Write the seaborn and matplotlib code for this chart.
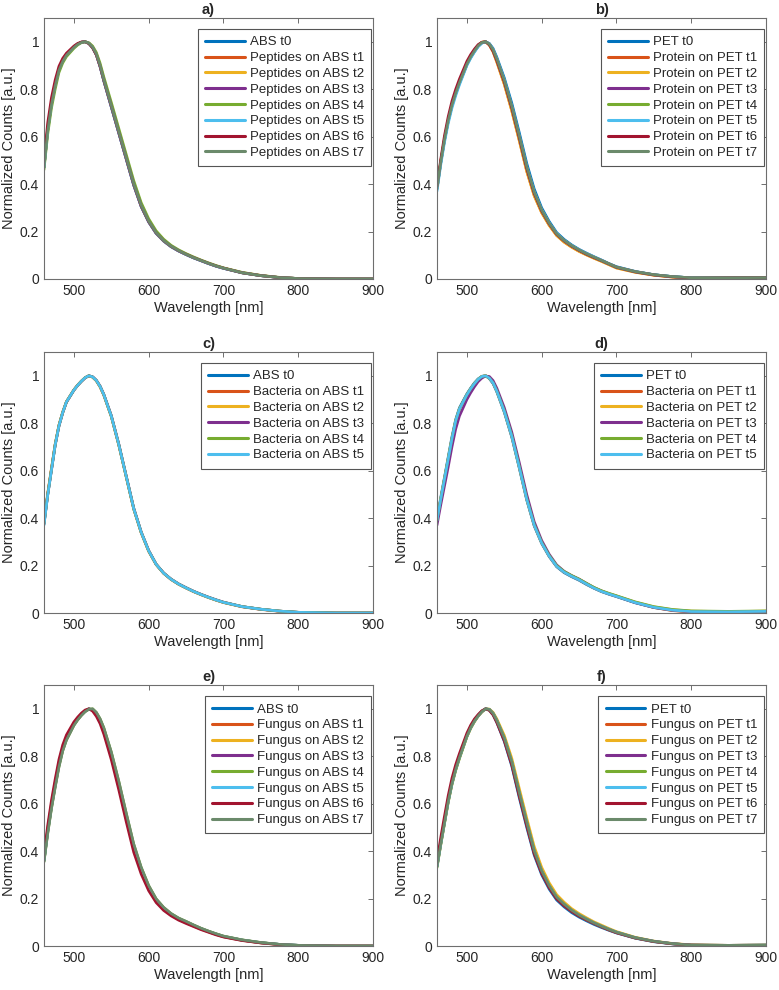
"""Normalized emission spectra of ABS / PET exposed to peptides, protein, bacteria and fungus (3x2 panels)."""

import matplotlib.pyplot as plt
import pandas as pd
import seaborn as sns

WAVELENGTH = [460, 465, 470, 475, 480, 485, 490, 500, 505, 510, 515, 520, 525, 530, 535, 540,
              550, 560, 570, 580, 590, 600, 610, 620, 630, 640, 650, 660, 670, 680, 690, 700,
              725, 750, 775, 800, 850, 900]

# MATLAB default line colours + grey-green for t7
LINE_COLORS = ["#0072BD", "#D95319", "#EDB120", "#7E2F8E", "#77AC30", "#4DBEEE", "#A2142F", "#6B8A6B"]

# a) peptides on ABS
PEPTIDES_ABS_LABELS = ["ABS t0"] + [f"Peptides on ABS t{i}" for i in range(1, 8)]
PEPTIDES_ABS = [
    [0.47, 0.63, 0.74, 0.82, 0.885, 0.92, 0.945, 0.978, 0.99, 0.998, 1.0, 0.993, 0.975, 0.945, 0.895, 0.835, 0.725, 0.615, 0.505, 0.395, 0.305, 0.24, 0.192, 0.16, 0.136, 0.118, 0.103, 0.089, 0.077, 0.065, 0.054, 0.045, 0.026, 0.014, 0.006, 0.002, 0.0, 0.0],
    [0.48, 0.64, 0.745, 0.825, 0.887, 0.922, 0.946, 0.978, 0.99, 0.998, 1.0, 0.994, 0.978, 0.95, 0.902, 0.843, 0.735, 0.625, 0.515, 0.405, 0.313, 0.247, 0.197, 0.164, 0.139, 0.12, 0.105, 0.091, 0.078, 0.066, 0.055, 0.046, 0.027, 0.015, 0.006, 0.002, 0.0, 0.0],
    [0.47, 0.63, 0.74, 0.82, 0.885, 0.92, 0.945, 0.978, 0.99, 0.998, 1.0, 0.993, 0.976, 0.947, 0.898, 0.838, 0.729, 0.619, 0.509, 0.399, 0.308, 0.242, 0.194, 0.161, 0.137, 0.119, 0.104, 0.09, 0.078, 0.066, 0.055, 0.046, 0.026, 0.014, 0.006, 0.002, 0.0, 0.0],
    [0.47, 0.628, 0.738, 0.818, 0.883, 0.919, 0.944, 0.977, 0.99, 0.998, 1.0, 0.993, 0.975, 0.945, 0.895, 0.835, 0.725, 0.615, 0.505, 0.395, 0.305, 0.24, 0.192, 0.16, 0.136, 0.118, 0.103, 0.089, 0.077, 0.065, 0.054, 0.045, 0.026, 0.014, 0.006, 0.002, 0.0, 0.0],
    [0.46, 0.61, 0.72, 0.80, 0.87, 0.91, 0.937, 0.972, 0.986, 0.996, 1.0, 0.996, 0.982, 0.955, 0.91, 0.852, 0.745, 0.635, 0.525, 0.415, 0.322, 0.254, 0.203, 0.168, 0.142, 0.123, 0.107, 0.093, 0.08, 0.068, 0.057, 0.047, 0.028, 0.015, 0.007, 0.002, 0.0, 0.0],
    [0.47, 0.63, 0.74, 0.82, 0.884, 0.92, 0.945, 0.978, 0.99, 0.998, 1.0, 0.993, 0.975, 0.945, 0.896, 0.836, 0.726, 0.616, 0.506, 0.396, 0.306, 0.241, 0.193, 0.16, 0.136, 0.118, 0.103, 0.089, 0.077, 0.065, 0.054, 0.045, 0.026, 0.014, 0.006, 0.002, 0.0, 0.0],
    [0.50, 0.66, 0.765, 0.84, 0.897, 0.93, 0.952, 0.982, 0.993, 0.999, 1.0, 0.992, 0.974, 0.944, 0.896, 0.837, 0.728, 0.618, 0.508, 0.398, 0.307, 0.242, 0.194, 0.161, 0.137, 0.119, 0.104, 0.09, 0.078, 0.066, 0.055, 0.046, 0.026, 0.014, 0.006, 0.002, 0.0, 0.0],
    [0.47, 0.625, 0.735, 0.815, 0.88, 0.917, 0.943, 0.976, 0.989, 0.997, 1.0, 0.994, 0.977, 0.948, 0.9, 0.84, 0.731, 0.621, 0.511, 0.401, 0.31, 0.244, 0.195, 0.162, 0.138, 0.12, 0.104, 0.09, 0.078, 0.066, 0.055, 0.046, 0.026, 0.014, 0.006, 0.002, 0.0, 0.0],
]

# b) protein on PET
PROTEIN_PET_LABELS = ["PET t0"] + [f"Protein on PET t{i}" for i in range(1, 8)]
PROTEIN_PET = [
    [0.38, 0.49, 0.585, 0.665, 0.73, 0.78, 0.825, 0.903, 0.933, 0.958, 0.98, 0.995, 1.0, 0.993, 0.972, 0.935, 0.848, 0.742, 0.618, 0.488, 0.38, 0.3, 0.243, 0.196, 0.167, 0.144, 0.125, 0.109, 0.094, 0.08, 0.065, 0.052, 0.032, 0.018, 0.01, 0.005, 0.005, 0.006],
    [0.38, 0.495, 0.59, 0.67, 0.735, 0.785, 0.83, 0.908, 0.938, 0.963, 0.985, 0.998, 1.0, 0.986, 0.958, 0.915, 0.822, 0.71, 0.585, 0.455, 0.352, 0.28, 0.227, 0.184, 0.156, 0.135, 0.117, 0.102, 0.088, 0.075, 0.061, 0.047, 0.029, 0.016, 0.008, 0.003, 0.004, 0.005],
    [0.38, 0.495, 0.59, 0.67, 0.735, 0.785, 0.83, 0.908, 0.938, 0.963, 0.985, 0.998, 1.0, 0.986, 0.957, 0.914, 0.82, 0.708, 0.583, 0.453, 0.35, 0.279, 0.226, 0.183, 0.155, 0.134, 0.116, 0.101, 0.087, 0.074, 0.06, 0.046, 0.028, 0.016, 0.008, 0.003, 0.004, 0.005],
    [0.38, 0.49, 0.585, 0.665, 0.73, 0.78, 0.825, 0.905, 0.935, 0.96, 0.982, 0.996, 1.0, 0.99, 0.965, 0.925, 0.835, 0.725, 0.60, 0.47, 0.365, 0.29, 0.235, 0.19, 0.162, 0.14, 0.122, 0.106, 0.092, 0.078, 0.064, 0.05, 0.031, 0.018, 0.01, 0.005, 0.005, 0.006],
    [0.38, 0.49, 0.586, 0.666, 0.731, 0.781, 0.826, 0.905, 0.935, 0.96, 0.982, 0.996, 1.0, 0.99, 0.966, 0.926, 0.836, 0.726, 0.601, 0.471, 0.366, 0.291, 0.236, 0.191, 0.163, 0.141, 0.122, 0.106, 0.092, 0.078, 0.064, 0.05, 0.031, 0.018, 0.01, 0.005, 0.005, 0.006],
    [0.37, 0.48, 0.575, 0.655, 0.72, 0.772, 0.818, 0.90, 0.93, 0.956, 0.979, 0.994, 1.0, 0.991, 0.968, 0.929, 0.84, 0.73, 0.605, 0.475, 0.368, 0.292, 0.237, 0.192, 0.163, 0.141, 0.123, 0.107, 0.093, 0.079, 0.064, 0.05, 0.031, 0.018, 0.01, 0.005, 0.005, 0.006],
    [0.39, 0.505, 0.605, 0.685, 0.75, 0.80, 0.843, 0.918, 0.946, 0.969, 0.988, 0.998, 1.0, 0.987, 0.96, 0.92, 0.83, 0.72, 0.595, 0.465, 0.36, 0.286, 0.232, 0.188, 0.16, 0.138, 0.12, 0.104, 0.09, 0.077, 0.063, 0.049, 0.03, 0.017, 0.009, 0.004, 0.005, 0.006],
    [0.385, 0.493, 0.588, 0.668, 0.733, 0.783, 0.828, 0.906, 0.936, 0.961, 0.983, 0.997, 1.0, 0.99, 0.966, 0.927, 0.837, 0.728, 0.603, 0.473, 0.366, 0.29, 0.235, 0.19, 0.162, 0.14, 0.122, 0.106, 0.092, 0.078, 0.064, 0.05, 0.031, 0.018, 0.01, 0.005, 0.005, 0.006],
]

# c) bacteria on ABS
BACTERIA_ABS_LABELS = ["ABS t0"] + [f"Bacteria on ABS t{i}" for i in range(1, 6)]
BACTERIA_ABS = [
    [0.375, 0.50, 0.605, 0.71, 0.79, 0.845, 0.89, 0.94, 0.96, 0.977, 0.992, 1.0, 0.995, 0.98, 0.955, 0.92, 0.83, 0.71, 0.575, 0.44, 0.34, 0.262, 0.205, 0.168, 0.142, 0.122, 0.106, 0.091, 0.078, 0.066, 0.055, 0.045, 0.027, 0.016, 0.008, 0.003, 0.0, 0.0],
    [0.38, 0.505, 0.61, 0.713, 0.792, 0.847, 0.891, 0.941, 0.961, 0.978, 0.992, 1.0, 0.994, 0.979, 0.953, 0.918, 0.828, 0.708, 0.573, 0.438, 0.338, 0.26, 0.204, 0.167, 0.141, 0.121, 0.105, 0.09, 0.077, 0.065, 0.054, 0.044, 0.026, 0.015, 0.007, 0.002, 0.0, 0.0],
    [0.38, 0.503, 0.608, 0.712, 0.791, 0.846, 0.89, 0.94, 0.96, 0.977, 0.992, 1.0, 0.994, 0.979, 0.954, 0.919, 0.829, 0.709, 0.574, 0.439, 0.339, 0.261, 0.205, 0.168, 0.142, 0.122, 0.106, 0.091, 0.078, 0.066, 0.055, 0.045, 0.027, 0.016, 0.008, 0.003, 0.0, 0.0],
    [0.375, 0.498, 0.602, 0.707, 0.787, 0.843, 0.888, 0.939, 0.959, 0.976, 0.991, 1.0, 0.996, 0.981, 0.957, 0.922, 0.833, 0.713, 0.578, 0.443, 0.342, 0.264, 0.206, 0.169, 0.143, 0.123, 0.107, 0.092, 0.079, 0.067, 0.056, 0.046, 0.027, 0.016, 0.008, 0.003, 0.0, 0.0],
    [0.375, 0.50, 0.605, 0.71, 0.79, 0.845, 0.89, 0.94, 0.96, 0.977, 0.992, 1.0, 0.995, 0.98, 0.955, 0.92, 0.83, 0.71, 0.575, 0.44, 0.34, 0.262, 0.205, 0.168, 0.142, 0.122, 0.106, 0.091, 0.078, 0.066, 0.055, 0.045, 0.027, 0.016, 0.008, 0.003, 0.0, 0.0],
    [0.37, 0.497, 0.603, 0.709, 0.789, 0.845, 0.89, 0.94, 0.96, 0.977, 0.992, 1.0, 0.995, 0.98, 0.955, 0.92, 0.83, 0.71, 0.575, 0.44, 0.34, 0.262, 0.205, 0.168, 0.142, 0.122, 0.106, 0.091, 0.078, 0.066, 0.055, 0.045, 0.027, 0.016, 0.008, 0.003, 0.0, 0.0],
]

# d) bacteria on PET
BACTERIA_PET_LABELS = ["PET t0"] + [f"Bacteria on PET t{i}" for i in range(1, 6)]
BACTERIA_PET = [
    [0.395, 0.487, 0.572, 0.658, 0.743, 0.816, 0.865, 0.924, 0.948, 0.97, 0.987, 0.998, 1.0, 0.988, 0.967, 0.932, 0.846, 0.741, 0.611, 0.476, 0.367, 0.293, 0.238, 0.195, 0.17, 0.153, 0.138, 0.12, 0.104, 0.09, 0.079, 0.069, 0.043, 0.023, 0.011, 0.005, 0.005, 0.006],
    [0.39, 0.48, 0.565, 0.65, 0.735, 0.81, 0.86, 0.92, 0.945, 0.967, 0.985, 0.997, 1.0, 0.99, 0.97, 0.935, 0.85, 0.745, 0.615, 0.48, 0.37, 0.295, 0.24, 0.197, 0.172, 0.155, 0.14, 0.122, 0.105, 0.091, 0.08, 0.07, 0.044, 0.023, 0.01, 0.004, 0.004, 0.006],
    [0.39, 0.48, 0.565, 0.65, 0.735, 0.81, 0.86, 0.92, 0.945, 0.967, 0.985, 0.997, 1.0, 0.99, 0.971, 0.936, 0.852, 0.747, 0.617, 0.482, 0.372, 0.297, 0.242, 0.199, 0.174, 0.157, 0.142, 0.124, 0.107, 0.093, 0.082, 0.072, 0.046, 0.026, 0.014, 0.008, 0.006, 0.008],
    [0.37, 0.455, 0.535, 0.615, 0.70, 0.775, 0.83, 0.90, 0.928, 0.953, 0.975, 0.99, 0.999, 0.997, 0.98, 0.948, 0.866, 0.763, 0.635, 0.50, 0.385, 0.306, 0.248, 0.203, 0.176, 0.158, 0.143, 0.125, 0.107, 0.093, 0.081, 0.071, 0.044, 0.024, 0.012, 0.006, 0.005, 0.007],
    [0.39, 0.48, 0.565, 0.65, 0.735, 0.81, 0.86, 0.92, 0.945, 0.967, 0.985, 0.997, 1.0, 0.99, 0.971, 0.937, 0.853, 0.749, 0.619, 0.484, 0.374, 0.298, 0.243, 0.2, 0.175, 0.158, 0.143, 0.125, 0.108, 0.094, 0.083, 0.073, 0.047, 0.027, 0.015, 0.009, 0.007, 0.009],
    [0.39, 0.48, 0.565, 0.65, 0.735, 0.81, 0.86, 0.92, 0.945, 0.967, 0.985, 0.997, 1.0, 0.99, 0.97, 0.935, 0.85, 0.745, 0.615, 0.48, 0.37, 0.295, 0.24, 0.197, 0.172, 0.155, 0.14, 0.122, 0.105, 0.091, 0.08, 0.07, 0.044, 0.024, 0.012, 0.006, 0.005, 0.007],
]

# e) fungus on ABS
FUNGUS_ABS_LABELS = ["ABS t0"] + [f"Fungus on ABS t{i}" for i in range(1, 8)]
FUNGUS_ABS = [
    [0.36, 0.485, 0.59, 0.68, 0.765, 0.83, 0.875, 0.935, 0.957, 0.975, 0.99, 1.0, 0.995, 0.978, 0.95, 0.91, 0.805, 0.68, 0.545, 0.415, 0.32, 0.245, 0.192, 0.157, 0.132, 0.114, 0.10, 0.086, 0.073, 0.061, 0.05, 0.04, 0.025, 0.014, 0.007, 0.003, 0.0, 0.0],
    [0.37, 0.495, 0.6, 0.69, 0.773, 0.837, 0.88, 0.938, 0.96, 0.978, 0.992, 1.0, 0.993, 0.974, 0.945, 0.904, 0.798, 0.672, 0.537, 0.408, 0.314, 0.24, 0.188, 0.154, 0.13, 0.112, 0.098, 0.084, 0.071, 0.06, 0.049, 0.039, 0.024, 0.013, 0.006, 0.002, 0.0, 0.0],
    [0.36, 0.485, 0.59, 0.68, 0.765, 0.83, 0.875, 0.935, 0.957, 0.975, 0.99, 1.0, 0.995, 0.978, 0.95, 0.91, 0.806, 0.681, 0.546, 0.416, 0.321, 0.246, 0.193, 0.158, 0.133, 0.115, 0.10, 0.086, 0.073, 0.061, 0.05, 0.04, 0.025, 0.014, 0.007, 0.003, 0.0, 0.0],
    [0.36, 0.482, 0.586, 0.676, 0.762, 0.827, 0.872, 0.933, 0.955, 0.974, 0.989, 0.999, 0.997, 0.981, 0.954, 0.915, 0.811, 0.687, 0.552, 0.422, 0.326, 0.25, 0.196, 0.16, 0.135, 0.116, 0.102, 0.088, 0.074, 0.062, 0.051, 0.041, 0.025, 0.014, 0.007, 0.003, 0.0, 0.0],
    [0.355, 0.475, 0.58, 0.67, 0.755, 0.822, 0.868, 0.93, 0.953, 0.972, 0.988, 0.998, 1.0, 0.985, 0.958, 0.92, 0.818, 0.695, 0.56, 0.43, 0.332, 0.255, 0.199, 0.163, 0.137, 0.118, 0.104, 0.089, 0.075, 0.063, 0.052, 0.042, 0.026, 0.015, 0.007, 0.003, 0.0, 0.0],
    [0.36, 0.485, 0.59, 0.68, 0.765, 0.83, 0.875, 0.935, 0.957, 0.975, 0.99, 1.0, 0.995, 0.978, 0.95, 0.911, 0.807, 0.682, 0.547, 0.418, 0.322, 0.247, 0.193, 0.158, 0.133, 0.115, 0.101, 0.087, 0.073, 0.061, 0.05, 0.04, 0.025, 0.014, 0.007, 0.003, 0.0, 0.0],
    [0.385, 0.51, 0.615, 0.705, 0.787, 0.848, 0.89, 0.945, 0.965, 0.982, 0.995, 1.0, 0.99, 0.968, 0.937, 0.893, 0.785, 0.658, 0.523, 0.395, 0.303, 0.233, 0.183, 0.15, 0.127, 0.109, 0.095, 0.082, 0.069, 0.058, 0.047, 0.038, 0.023, 0.013, 0.006, 0.002, 0.0, 0.0],
    [0.355, 0.475, 0.58, 0.67, 0.755, 0.822, 0.868, 0.93, 0.953, 0.972, 0.988, 0.998, 1.0, 0.985, 0.958, 0.92, 0.818, 0.695, 0.56, 0.43, 0.332, 0.255, 0.199, 0.163, 0.137, 0.118, 0.104, 0.089, 0.075, 0.063, 0.052, 0.042, 0.026, 0.015, 0.007, 0.003, 0.0, 0.0],
]

# f) fungus on PET
FUNGUS_PET_LABELS = ["PET t0"] + [f"Fungus on PET t{i}" for i in range(1, 8)]
FUNGUS_PET = [
    [0.34, 0.44, 0.53, 0.62, 0.693, 0.752, 0.802, 0.89, 0.925, 0.952, 0.973, 0.99, 1.0, 0.994, 0.975, 0.942, 0.862, 0.758, 0.625, 0.50, 0.383, 0.30, 0.24, 0.194, 0.165, 0.141, 0.122, 0.106, 0.091, 0.078, 0.066, 0.055, 0.033, 0.018, 0.009, 0.003, 0.002, 0.003],
    [0.34, 0.435, 0.525, 0.615, 0.689, 0.749, 0.799, 0.888, 0.923, 0.95, 0.972, 0.989, 1.0, 0.996, 0.978, 0.947, 0.87, 0.768, 0.637, 0.512, 0.393, 0.309, 0.248, 0.201, 0.171, 0.147, 0.127, 0.11, 0.095, 0.081, 0.068, 0.057, 0.034, 0.019, 0.01, 0.004, 0.003, 0.004],
    [0.335, 0.428, 0.518, 0.607, 0.682, 0.742, 0.792, 0.882, 0.917, 0.945, 0.968, 0.986, 0.999, 0.999, 0.985, 0.958, 0.888, 0.792, 0.665, 0.54, 0.42, 0.332, 0.267, 0.217, 0.185, 0.158, 0.137, 0.119, 0.102, 0.088, 0.074, 0.061, 0.037, 0.021, 0.011, 0.005, 0.003, 0.004],
    [0.335, 0.43, 0.52, 0.61, 0.685, 0.745, 0.795, 0.885, 0.92, 0.948, 0.97, 0.988, 1.0, 0.997, 0.98, 0.95, 0.875, 0.775, 0.645, 0.52, 0.40, 0.315, 0.253, 0.205, 0.175, 0.15, 0.13, 0.113, 0.097, 0.083, 0.07, 0.058, 0.035, 0.02, 0.01, 0.004, 0.003, 0.004],
    [0.33, 0.425, 0.515, 0.605, 0.68, 0.74, 0.79, 0.882, 0.918, 0.946, 0.969, 0.988, 1.0, 0.998, 0.982, 0.953, 0.879, 0.779, 0.65, 0.525, 0.404, 0.318, 0.256, 0.207, 0.177, 0.152, 0.131, 0.114, 0.098, 0.084, 0.071, 0.059, 0.036, 0.02, 0.01, 0.004, 0.003, 0.004],
    [0.335, 0.43, 0.52, 0.61, 0.685, 0.745, 0.795, 0.885, 0.92, 0.948, 0.97, 0.988, 1.0, 0.997, 0.98, 0.95, 0.875, 0.775, 0.645, 0.52, 0.40, 0.315, 0.253, 0.205, 0.175, 0.15, 0.13, 0.113, 0.097, 0.083, 0.07, 0.058, 0.035, 0.02, 0.01, 0.004, 0.003, 0.004],
    [0.36, 0.458, 0.548, 0.635, 0.708, 0.765, 0.812, 0.898, 0.931, 0.957, 0.976, 0.992, 1.0, 0.993, 0.974, 0.942, 0.865, 0.763, 0.632, 0.507, 0.389, 0.306, 0.246, 0.199, 0.17, 0.146, 0.126, 0.11, 0.095, 0.081, 0.068, 0.056, 0.034, 0.019, 0.009, 0.004, 0.002, 0.003],
    [0.335, 0.43, 0.52, 0.61, 0.685, 0.745, 0.795, 0.885, 0.92, 0.948, 0.97, 0.988, 1.0, 0.997, 0.98, 0.95, 0.876, 0.776, 0.646, 0.521, 0.401, 0.316, 0.254, 0.206, 0.176, 0.151, 0.13, 0.113, 0.097, 0.083, 0.07, 0.058, 0.035, 0.02, 0.01, 0.004, 0.003, 0.004],
]

PANEL_TITLES = ["a)", "b)", "c)", "d)", "e)", "f)"]
PANEL_SERIES = [PEPTIDES_ABS, PROTEIN_PET, BACTERIA_ABS, BACTERIA_PET, FUNGUS_ABS, FUNGUS_PET]
PANEL_LABELS = [PEPTIDES_ABS_LABELS, PROTEIN_PET_LABELS, BACTERIA_ABS_LABELS,
                BACTERIA_PET_LABELS, FUNGUS_ABS_LABELS, FUNGUS_PET_LABELS]

TEXT_COLOR = "#262626"
AXIS_COLOR = "#6e6e6e"


def to_long(series: list[list[float]], labels: list[str]) -> pd.DataFrame:
    rows = []
    for label, values in zip(labels, series):
        assert len(values) == len(WAVELENGTH), label
        for wl, v in zip(WAVELENGTH, values):
            rows.append({"wavelength": wl, "counts": v, "series": label})
    return pd.DataFrame(rows)


def style_axes(ax) -> None:
    ax.set_xlim(460, 900)
    ax.set_ylim(0, 1.1)
    ax.set_xticks([500, 600, 700, 800, 900])
    ax.set_yticks([0, 0.2, 0.4, 0.6, 0.8, 1.0])
    ax.set_yticklabels(["0", "0.2", "0.4", "0.6", "0.8", "1"])
    ax.tick_params(direction="in", length=3.5, width=0.7, top=True, right=True,
                   colors=AXIS_COLOR, labelcolor=TEXT_COLOR, labelsize=10)
    for sp in ax.spines.values():
        sp.set_visible(True)
        sp.set_color(AXIS_COLOR)
        sp.set_linewidth(0.8)
    ax.set_xlabel("Wavelength [nm]", fontsize=10.5, color=TEXT_COLOR, labelpad=2)
    ax.set_ylabel("Normalized Counts [a.u.]", fontsize=10.5, color=TEXT_COLOR, labelpad=3)


def main() -> None:
    sns.set_style("white")
    plt.rcParams["font.family"] = ["Liberation Sans", "DejaVu Sans"]

    fig = plt.figure(figsize=(7.79, 9.90), dpi=100)
    lefts = [44 / 779, 437 / 779]
    bottoms = [0.7182, 0.3808, 0.0444]
    w, h = 329 / 779, 0.2636

    for i, (title, series, labels) in enumerate(zip(PANEL_TITLES, PANEL_SERIES, PANEL_LABELS)):
        ax = fig.add_axes([lefts[i % 2], bottoms[i // 2], w, h])
        df = to_long(series, labels)
        sns.lineplot(
            data=df, x="wavelength", y="counts", hue="series", hue_order=labels,
            palette=LINE_COLORS[: len(labels)], estimator=None, sort=False,
            linewidth=1.9, ax=ax, legend=True,
        )
        style_axes(ax)
        ax.set_title(title, fontsize=10.5, fontweight="bold", color=TEXT_COLOR, pad=3)

        old = ax.get_legend()
        handles = old.legend_handles
        texts = [t.get_text() for t in old.get_texts()]
        old.remove()
        for hd in handles:
            hd.set_linewidth(2.2)
        leg = ax.legend(
            handles, texts, loc="upper right", bbox_to_anchor=(0.995, 0.958),
            borderaxespad=0, fontsize=9.5, frameon=True, fancybox=False,
            framealpha=1, edgecolor="#555555", handlelength=3.0,
            handletextpad=0.4, labelspacing=0.27, borderpad=0.55,
        )
        leg.get_frame().set_linewidth(0.8)
        for t in leg.get_texts():
            t.set_color(TEXT_COLOR)

    fig.savefig("out.png", dpi=100)


if __name__ == "__main__":
    main()
